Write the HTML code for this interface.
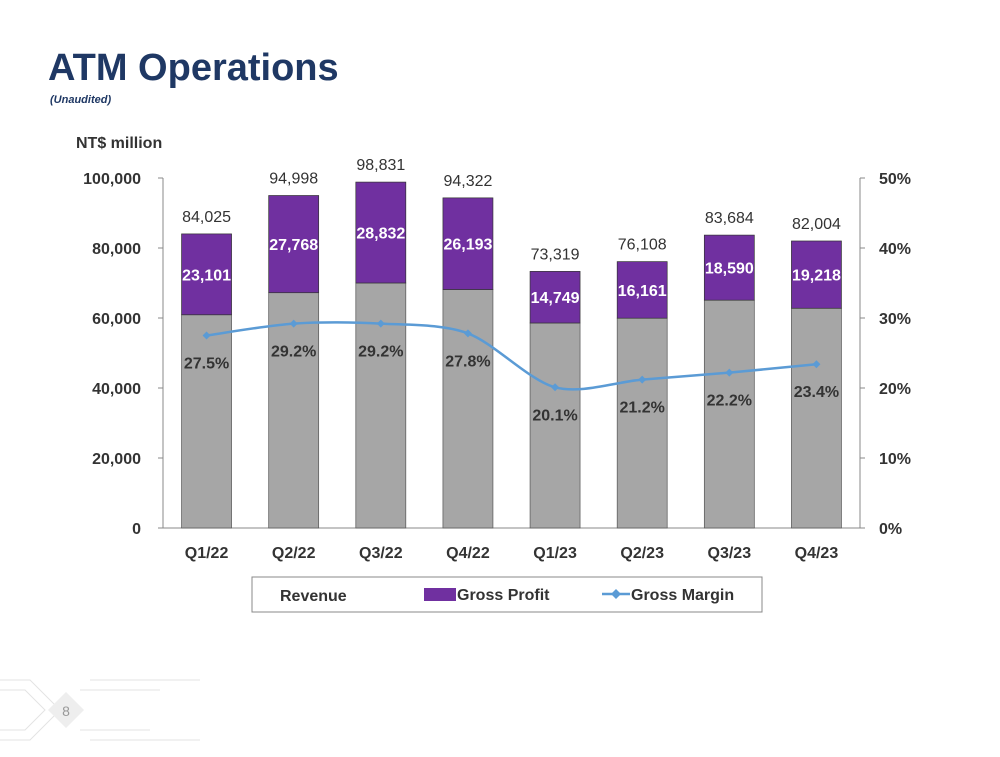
<!DOCTYPE html>
<html><head><meta charset="utf-8"><style>
body{margin:0;width:1000px;height:752px;background:#fff;overflow:hidden;font-family:"Liberation Sans",sans-serif;}
svg text{font-family:"Liberation Sans",sans-serif;}
</style></head><body>
<svg width="1000" height="752">
<text x="48" y="80" font-size="38" font-weight="bold" fill="#1f3864">ATM Operations</text>
<text x="50" y="103" font-size="11" font-style="italic" font-weight="bold" fill="#1f3864">(Unaudited)</text>
<text x="76" y="148" font-size="16" font-weight="bold" fill="#333">NT$ million</text>
<g stroke="#e3e3e3" fill="none">
<path d="M0 680 H30 L60 710 L30 740 H0 M0 690 H25 L45 710 L25 730 H0 M90 680 H200 M90 740 H200 M80 690 H160 M80 730 H150"/>
<polygon points="66,692 84,710 66,728 48,710" fill="#eee" stroke="none"/>
</g>
<text x="66" y="716" font-size="14" fill="#999" text-anchor="middle">8</text>
<g id="chart"></g>
<g>
<rect x="252" y="577" width="510" height="35" fill="#fff" stroke="#888"/>
<text x="280" y="601" font-size="16" font-weight="bold" fill="#333">Revenue</text>
<rect x="424" y="588" width="32" height="13" fill="#7030a0"/>
<text x="457" y="600" font-size="16" font-weight="bold" fill="#333">Gross Profit</text>
<line x1="602" y1="594" x2="630" y2="594" stroke="#5b9bd5" stroke-width="2.5"/>
<polygon points="616,589 621,594 616,599 611,594" fill="#5b9bd5"/>
<text x="631" y="600" font-size="16" font-weight="bold" fill="#333">Gross Margin</text>
</g>
</svg>
<script>
const categories=["Q1/22","Q2/22","Q3/22","Q4/22","Q1/23","Q2/23","Q3/23","Q4/23"];
const revenue=[84025,94998,98831,94322,73319,76108,83684,82004];
const grossProfit=[23101,27768,28832,26193,14749,16161,18590,19218];
const grossMargin=[27.5,29.2,29.2,27.8,20.1,21.2,22.2,23.4];
const leftTicks=[0,20000,40000,60000,80000,100000];
const rightTicks=[0,10,20,30,40,50];
const NS="http://www.w3.org/2000/svg";
const g=document.getElementById('chart');
const X0=163,X1=860,Y0=528,Y1=178;
const step=(X1-X0)/categories.length;
const xc=i=>X0+step*(i+0.5);
const yL=v=>Y0-(v/100000)*(Y0-Y1);
const yR=v=>Y0-(v/50)*(Y0-Y1);
const fmt=v=>v.toLocaleString('en-US');
function mk(t,a,txt){const e=document.createElementNS(NS,t);for(const k in a)e.setAttribute(k,a[k]);if(txt!=null)e.textContent=txt;g.appendChild(e);return e;}
let e;
e=mk('line',{x1:X0,y1:Y1,x2:X0,y2:Y0,stroke:'#888'});


e=mk('line',{x1:X1,y1:Y1,x2:X1,y2:Y0,stroke:'#888'});


e=mk('line',{x1:X0,y1:Y0,x2:X1,y2:Y0,stroke:'#888'});


leftTicks.forEach(v=>{
 mk('line',{x1:X0-5,y1:yL(v),x2:X0,y2:yL(v),stroke:'#888'});
 e=mk('text',{x:X0-22,y:yL(v)+6,'font-size':16,'font-weight':'bold',fill:'#333','text-anchor':'end'},fmt(v));
 
 
});
rightTicks.forEach(v=>{
 mk('line',{x1:X1,y1:yR(v),x2:X1+5,y2:yR(v),stroke:'#888'});
 e=mk('text',{x:X1+19,y:yR(v)+6,'font-size':16,'font-weight':'bold',fill:'#333'},v+'%');
 
 
});
const bw=50;
categories.forEach((c,i)=>{
 const x=xc(i)-bw/2;
 const base=revenue[i]-grossProfit[i];
 e=mk('rect',{x:x,y:yL(base),width:bw,height:Y0-yL(base),fill:'#a6a6a6',stroke:'#555','stroke-width':0.7});
 
 
 e=mk('rect',{x:x,y:yL(revenue[i]),width:bw,height:yL(base)-yL(revenue[i]),fill:'#7030a0',stroke:'#333','stroke-width':0.7});
 
 
 e=mk('text',{x:xc(i),y:yL(revenue[i])-12,'font-size':16,fill:'#333','text-anchor':'middle'},fmt(revenue[i]));
 
 
 e=mk('text',{x:xc(i),y:(yL(revenue[i])+yL(base))/2+6,'font-size':16,'font-weight':'bold',fill:'#fff','text-anchor':'middle'},fmt(grossProfit[i]));
 
 
 e=mk('text',{x:xc(i),y:Y0+30,'font-size':16,'font-weight':'bold',fill:'#333','text-anchor':'middle'},c);
 
 
});
const pts=grossMargin.map((v,i)=>[xc(i),yR(v)]);
let d='M'+pts[0][0]+' '+pts[0][1];
for(let i=0;i<pts.length-1;i++){
 const p0=pts[Math.max(i-1,0)],p1=pts[i],p2=pts[i+1],p3=pts[Math.min(i+2,pts.length-1)];
 const t=0.15;
 d+=' C'+(p1[0]+(p2[0]-p0[0])*t)+' '+(p1[1]+(p2[1]-p0[1])*t)+' '+(p2[0]-(p3[0]-p1[0])*t)+' '+(p2[1]-(p3[1]-p1[1])*t)+' '+p2[0]+' '+p2[1];
}
e=mk('path',{d:d,fill:'none',stroke:'#5b9bd5','stroke-width':2.5});


pts.forEach((p,i)=>{
 e=mk('polygon',{points:`${p[0]},${p[1]-4} ${p[0]+4},${p[1]} ${p[0]},${p[1]+4} ${p[0]-4},${p[1]}`,fill:'#5b9bd5'});
 
 
 e=mk('text',{x:p[0],y:p[1]+33,'font-size':16,'font-weight':'bold',fill:'#333','text-anchor':'middle'},grossMargin[i].toFixed(1)+'%');
 
 
});
</script>
</body></html>
